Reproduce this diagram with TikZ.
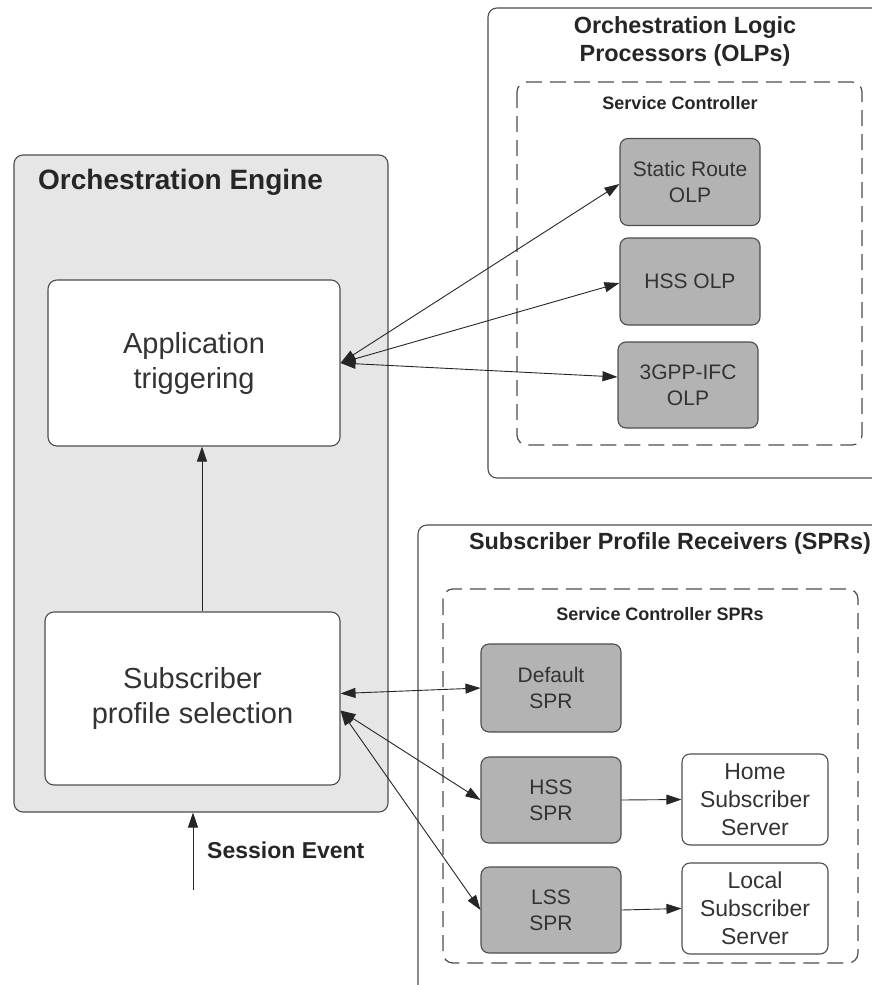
\documentclass[tikz,border=0pt]{standalone}
\usepackage{fontspec}
\setmainfont{Liberation Sans}
\usetikzlibrary{arrows.meta}
\definecolor{engfill}{HTML}{E6E6E6}
\definecolor{boxfill}{HTML}{B3B3B3}
\definecolor{edge}{HTML}{4D4D4D}
\definecolor{txt}{HTML}{333333}
\begin{document}
\begin{tikzpicture}[x=1pt,y=-1pt,
  frame/.style={draw=edge,line width=1.1pt,rounded corners=9pt},
  inner/.style={draw=edge,line width=1.1pt,rounded corners=9pt,fill=white,text=txt,
    align=center,inner sep=0pt,font=\fontsize{29}{35}\selectfont},
  olp/.style={draw=edge,line width=1.1pt,rounded corners=8pt,fill=boxfill,text=txt,
    align=center,inner sep=0pt,minimum width=140pt,minimum height=87pt,
    font=\fontsize{21}{26}\selectfont},
  srv/.style={draw=edge,line width=1.1pt,rounded corners=8pt,fill=white,text=txt,
    align=center,inner sep=0pt,minimum width=146pt,minimum height=91pt,
    font=\fontsize{23}{28}\selectfont},
  dashbox/.style={draw=edge,line width=1.2pt,dash pattern=on 16pt off 8pt,rounded corners=10pt},
  ttl/.style={font=\bfseries\fontsize{23.4}{28}\selectfont,align=center,text=black!85,inner sep=0pt},
  subttl/.style={font=\bfseries\fontsize{18}{22}\selectfont,align=center,text=black!85,inner sep=0pt},
  tip/.tip={Triangle[length=15pt,width=10pt]},
  arr/.style={-tip,line width=0.9pt,draw=black!85},
  dbl/.style={tip-tip,line width=0.9pt,draw=black!85}]
\useasboundingbox (0,0) rectangle (872,985);
\clip (0,0) rectangle (872,985);

% Orchestration engine
\node[frame,fill=engfill,minimum width=374pt,minimum height=657pt,inner sep=0pt] (eng) at (201,483.5) {};
\node[anchor=west,font=\bfseries\fontsize{28}{32}\selectfont,text=black!85,inner sep=0pt] (engt) at (38,182) {Orchestration Engine};
\node[inner,minimum width=292pt,minimum height=166pt] (app) at (194,363) {Application\\triggering};
\node[inner,minimum width=295pt,minimum height=173pt] (sub) at (192.5,698.5) {Subscriber\\profile selection};

% Orchestration logic processors
\draw[frame] (488,8) rectangle (900,478);
\node[ttl] (olpt) at (685,41) {Orchestration Logic\\Processors (OLPs)};
\draw[dashbox] (517,82) rectangle (862,445);
\node[subttl] (sct) at (680,103) {Service Controller};
\node[olp] (sr) at (690,182) {Static Route\\OLP};
\node[olp] (ho) at (690,281.5) {HSS OLP};
\node[olp,minimum height=86pt] (ifc) at (688,385) {3GPP-IFC\\OLP};

% Subscriber profile receivers
\draw[frame] (418,525) rectangle (900,1010);
\node[ttl] (sprt) at (670,543) {Subscriber Profile Receivers (SPRs)};
\draw[dashbox] (443,589) rectangle (858,963);
\node[subttl] (scst) at (660,614) {Service Controller SPRs};
\node[olp,minimum height=88pt] (dft) at (551,688) {Default\\SPR};
\node[olp,minimum height=86pt] (hsp) at (551,800) {HSS\\SPR};
\node[olp,minimum height=86pt] (lsp) at (551,910) {LSS\\SPR};
\node[srv] (home) at (755,799.5) {Home\\Subscriber\\Server};
\node[srv] (local) at (755,908.5) {Local\\Subscriber\\Server};

% Session event input
\coordinate (se) at (193,890);
\node[anchor=west,font=\bfseries\fontsize{23}{27}\selectfont,text=black!85,inner sep=0pt] (sel) at (207,850) {Session Event};

% Connectors
\draw[arr] (se) -- (se |- eng.south);
\draw[arr] ([xshift=8pt]app.south |- sub.north) -- ([xshift=8pt]app.south);
\draw[dbl] (app.east) -- ([yshift=-2pt]sr.west);
\draw[dbl] (app.east) -- ([yshift=-1.5pt]ho.west);
\draw[dbl] (app.east) -- ([yshift=8pt]ifc.west);
\draw[dbl] ([yshift=5pt]sub.east) -- (dft.west);
\draw[dbl] ([yshift=-12pt]sub.east) -- (hsp.west);
\draw[dbl] ([yshift=-12pt]sub.east) -- (lsp.west);
\draw[arr] (hsp.east) -- (home.west);
\draw[arr] (lsp.east) -- (local.west);
\end{tikzpicture}
\end{document}
